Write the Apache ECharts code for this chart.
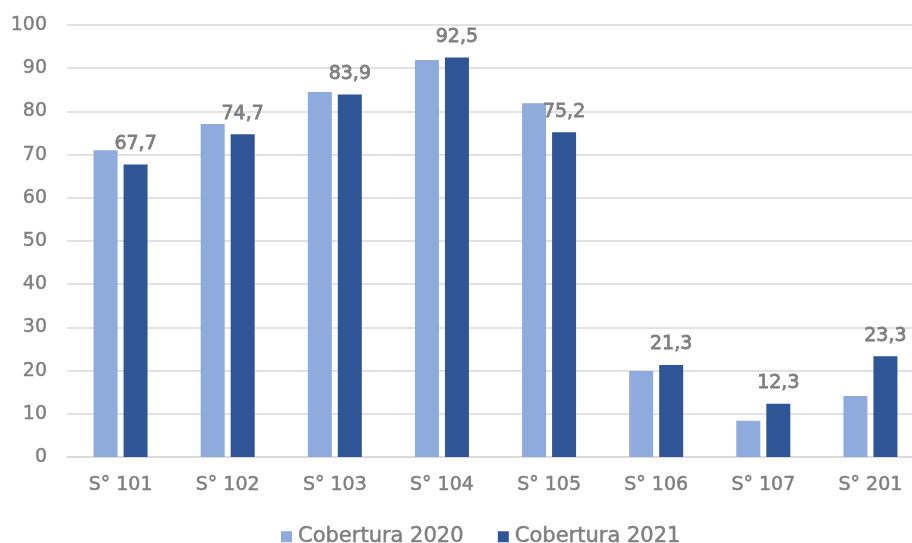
<!DOCTYPE html>
<html>
<head>
<meta charset="utf-8">
<script src="https://cdn.jsdelivr.net/npm/echarts@6/dist/echarts.min.js"></script>
<style>
  html, body { margin: 0; padding: 0; background: #ffffff; }
  #chart { width: 912px; height: 543px; }
</style>
</head>
<body>
<div id="chart"></div>
<script>
// Sectors and coverage per year
const categories = ['S° 101', 'S° 102', 'S° 103', 'S° 104', 'S° 105', 'S° 106', 'S° 107', 'S° 201'];
const cobertura2020 = [71.0, 77.1, 84.5, 91.9, 81.9, 19.9, 8.4, 14.1];
const cobertura2021 = [67.7, 74.7, 83.9, 92.5, 75.2, 21.3, 12.3, 23.3];
const yTicks = [0, 10, 20, 30, 40, 50, 60, 70, 80, 90, 100];

const FONT = 'DejaVu Sans';
const GREY = '#7f7f7f';

// a thin outline in the text colour gives the labels a semibold look
const semibold = (size, border) => ({
  color: GREY,
  fontSize: size,
  fontFamily: FONT,
  textBorderColor: GREY,
  textBorderWidth: border
});

const chart = echarts.init(document.getElementById('chart'), null, { renderer: 'canvas' });

chart.setOption({
  animation: false,
  backgroundColor: '#ffffff',
  textStyle: { fontFamily: FONT },
  grid: {
    left: 67,
    top: 25,
    width: 857,
    bottom: 86,
    containLabel: false,
    outerBoundsMode: 'none'
  },
  legend: {
    top: 521,
    left: 276,
    itemWidth: 11,
    itemHeight: 11,
    itemGap: 34,
    icon: 'rect',
    textStyle: Object.assign(semibold(21, 0.5), { padding: [0, 0, 0, 1] }),
    data: ['Cobertura 2020', 'Cobertura 2021']
  },
  xAxis: {
    type: 'category',
    data: categories,
    axisTick: { show: false },
    axisLine: { show: true, lineStyle: { color: '#d9d9d9', width: 1.5 } },
    axisLabel: Object.assign(semibold(19, 0.5), { margin: 19 })
  },
  yAxis: {
    type: 'value',
    min: yTicks[0],
    max: yTicks[yTicks.length - 1],
    interval: 10,
    axisLine: { show: false },
    axisTick: { show: false },
    splitLine: { lineStyle: { color: '#d9d9d9', width: 1.5 } },
    axisLabel: Object.assign(semibold(19, 0.4), { margin: 20 })
  },
  series: [
    {
      name: 'Cobertura 2020',
      type: 'bar',
      data: cobertura2020,
      barWidth: 24,
      barGap: '25%',
      itemStyle: { color: '#8faadc' }
    },
    {
      name: 'Cobertura 2021',
      type: 'bar',
      data: cobertura2021,
      barWidth: 24,
      itemStyle: { color: '#2f5597' },
      label: Object.assign(semibold(19, 0.8), {
        show: true,
        position: 'top',
        distance: 11,
        formatter: p => String(p.value).replace('.', ',')
      })
    }
  ]
});
</script>
</body>
</html>
